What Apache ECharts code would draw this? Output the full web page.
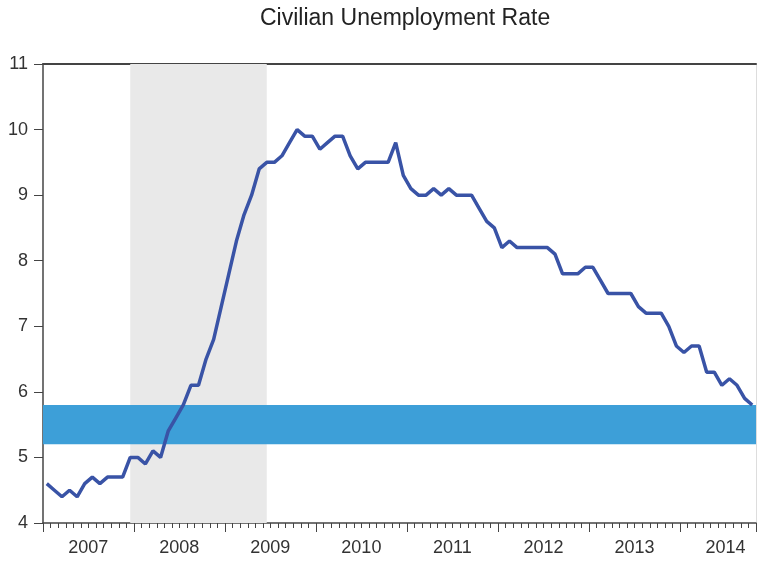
<!DOCTYPE html>
<html>
<head>
<meta charset="utf-8">
<script src="https://cdn.jsdelivr.net/npm/echarts@6/dist/echarts.min.js"></script>
<style>
  html, body { margin: 0; padding: 0; background: #fff; }
  #chart { width: 757px; height: 562px; }
</style>
</head>
<body>
<div id="chart"></div>
<script>
// monthly unemployment rate, Jan 2007 .. Oct 2014
const years = ["2007", "2008", "2009", "2010", "2011", "2012", "2013", "2014"];
const rate2007 = [4.6, 4.5, 4.4, 4.5, 4.4, 4.6, 4.7, 4.6, 4.7, 4.7, 4.7, 5.0];
const rate2008 = [5.0, 4.9, 5.1, 5.0, 5.4, 5.6, 5.8, 6.1, 6.1, 6.5, 6.8, 7.3];
const rate2009 = [7.8, 8.3, 8.7, 9.0, 9.4, 9.5, 9.5, 9.6, 9.8, 10.0, 9.9, 9.9];
const rate2010 = [9.7, 9.8, 9.9, 9.9, 9.6, 9.4, 9.5, 9.5, 9.5, 9.5, 9.8, 9.3];
const rate2011 = [9.1, 9.0, 9.0, 9.1, 9.0, 9.1, 9.0, 9.0, 9.0, 8.8, 8.6, 8.5];
const rate2012 = [8.2, 8.3, 8.2, 8.2, 8.2, 8.2, 8.2, 8.1, 7.8, 7.8, 7.8, 7.9];
const rate2013 = [7.9, 7.7, 7.5, 7.5, 7.5, 7.5, 7.3, 7.2, 7.2, 7.2, 7.0, 6.7];
const rate2014 = [6.6, 6.7, 6.7, 6.3, 6.3, 6.1, 6.2, 6.1, 5.9, 5.8];
const yTicks = [4, 5, 6, 7, 8, 9, 10, 11];
// shaded periods
const recession = ["2007-12", "2009-06"];
const targetBand = [5.2, 5.8];

const rates = [].concat(rate2007, rate2008, rate2009, rate2010,
  rate2011, rate2012, rate2013, rate2014);
const months = [];
years.forEach((y) => {
  for (let m = 1; m <= 12; m++) {
    if (months.length < rates.length) months.push(y + "-" + (m < 10 ? "0" + m : m));
  }
});

const chart = echarts.init(document.getElementById("chart"));
const labelFont = { fontFamily: "Liberation Sans", fontSize: 18, color: "#333" };

chart.setOption({
  animation: false,
  title: {
    text: "Civilian Unemployment Rate",
    left: 255,
    top: 2,
    textStyle: { fontFamily: "Liberation Sans", fontSize: 23, fontWeight: "normal", color: "#222" },
  },
  grid: { left: 43, right: 1, top: 64, bottom: 39 },
  xAxis: [
    {
      type: "category",
      data: months,
      axisLine: { lineStyle: { color: "#444", width: 1.5 } },
      axisTick: { show: true, interval: 0, length: 5, lineStyle: { color: "#444" } },
      axisLabel: Object.assign({
        interval: (i) => i % 12 === 6,
        formatter: (v) => v.slice(0, 4),
        margin: 16,
        padding: [0, 8, 0, 0],
      }, labelFont),
    },
    {
      // longer ticks at year boundaries
      type: "category",
      data: months,
      position: "bottom",
      axisLine: { show: false },
      axisTick: { show: true, interval: 11, length: 9, lineStyle: { color: "#444" } },
      axisLabel: { show: false },
    },
    {
      // top frame
      type: "category",
      data: months,
      position: "top",
      axisLine: { lineStyle: { color: "#444", width: 2 } },
      axisTick: { show: false },
      axisLabel: { show: false },
    },
  ],
  yAxis: [
    {
      type: "value",
      min: yTicks[0],
      max: yTicks[yTicks.length - 1],
      interval: 1,
      splitLine: { show: false },
      axisLine: { show: true, lineStyle: { color: "#444", width: 1.5 } },
      axisTick: { show: true, length: 9, lineStyle: { color: "#444" } },
      axisLabel: Object.assign({ margin: 15 }, labelFont),
    },
    {
      // right frame
      type: "value",
      position: "right",
      min: yTicks[0],
      max: yTicks[yTicks.length - 1],
      splitLine: { show: false },
      axisLine: { show: true, lineStyle: { color: "#ddd" } },
      axisTick: { show: false },
      axisLabel: { show: false },
    },
  ],
  series: [
    {
      type: "line",
      data: rates,
      symbol: "none",
      lineStyle: { color: "#3953a6", width: 3.5 },
      markArea: {
        silent: true,
        data: [
          [{ xAxis: recession[0], itemStyle: { color: "#e9e9e9" } }, { xAxis: recession[1] }],
          [{ yAxis: targetBand[0], itemStyle: { color: "#3d9fd8" } }, { yAxis: targetBand[1] }],
        ],
      },
    },
  ],
});
</script>
</body>
</html>
